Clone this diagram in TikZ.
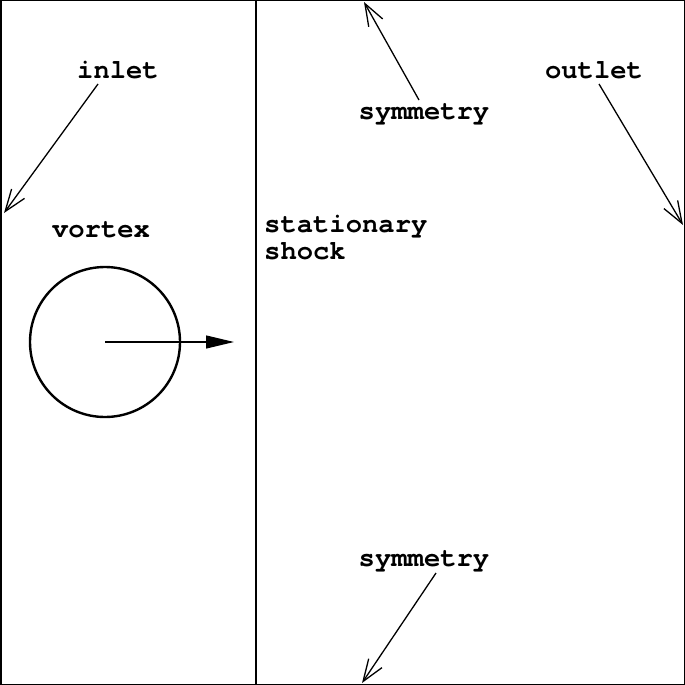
\documentclass[tikz,border=0pt]{standalone}
\usepackage{fontspec}
\setmonofont{TeX Gyre Cursor}
\usetikzlibrary{arrows.meta}
\begin{document}
\begin{tikzpicture}[x=1pt,y=-1pt,
  lbl/.style={font=\ttfamily\bfseries\fontsize{27.2}{27}\selectfont, inner sep=0pt},
  ptr/.style={line width=1.3pt, -{Straight Barb[length=22pt,width=16pt,line width=1.3pt]}},
  flow/.style={line width=1.2pt, -{Triangle[length=28pt,width=13pt]}}]
\useasboundingbox (0,0) rectangle (685,685);
\node[draw, line width=1.5pt, minimum width=683.5pt, minimum height=683.5pt, inner sep=0pt] (box) at (342.5,342.5) {};
\coordinate (shtop) at (256,0);
\coordinate (shbot) at (256,685);
\draw[line width=2pt] (shtop) -- (shbot);
\node[lbl] (inlet) at (118,70) {inlet};
\node[lbl] (outlet) at (594,70) {outlet};
\node[lbl] (symtop) at (424,114) {symmetry};
\node[lbl] (symbot) at (424,561) {symmetry};
\node[lbl] (vortex) at (101,230) {vortex};
\node[lbl, anchor=west, align=left] (shock) at (264,238) {stationary\\shock};
\node[draw, circle, line width=2.4pt, minimum size=150pt, inner sep=0pt] (vc) at (105,342) {};
\coordinate (flowend) at (234,342);
\draw[flow] (vc.center) -- (flowend);
\coordinate (inletend) at (4,213);
\coordinate (outletend) at (683,225);
\coordinate (symtopend) at (364,2);
\coordinate (symbotend) at (362,683);
\draw[ptr] (98,84) -- (inletend);
\draw[ptr] (599,84) -- (outletend);
\draw[ptr] (419,100) -- (symtopend);
\draw[ptr] (436,573) -- (symbotend);
\end{tikzpicture}
\end{document}
